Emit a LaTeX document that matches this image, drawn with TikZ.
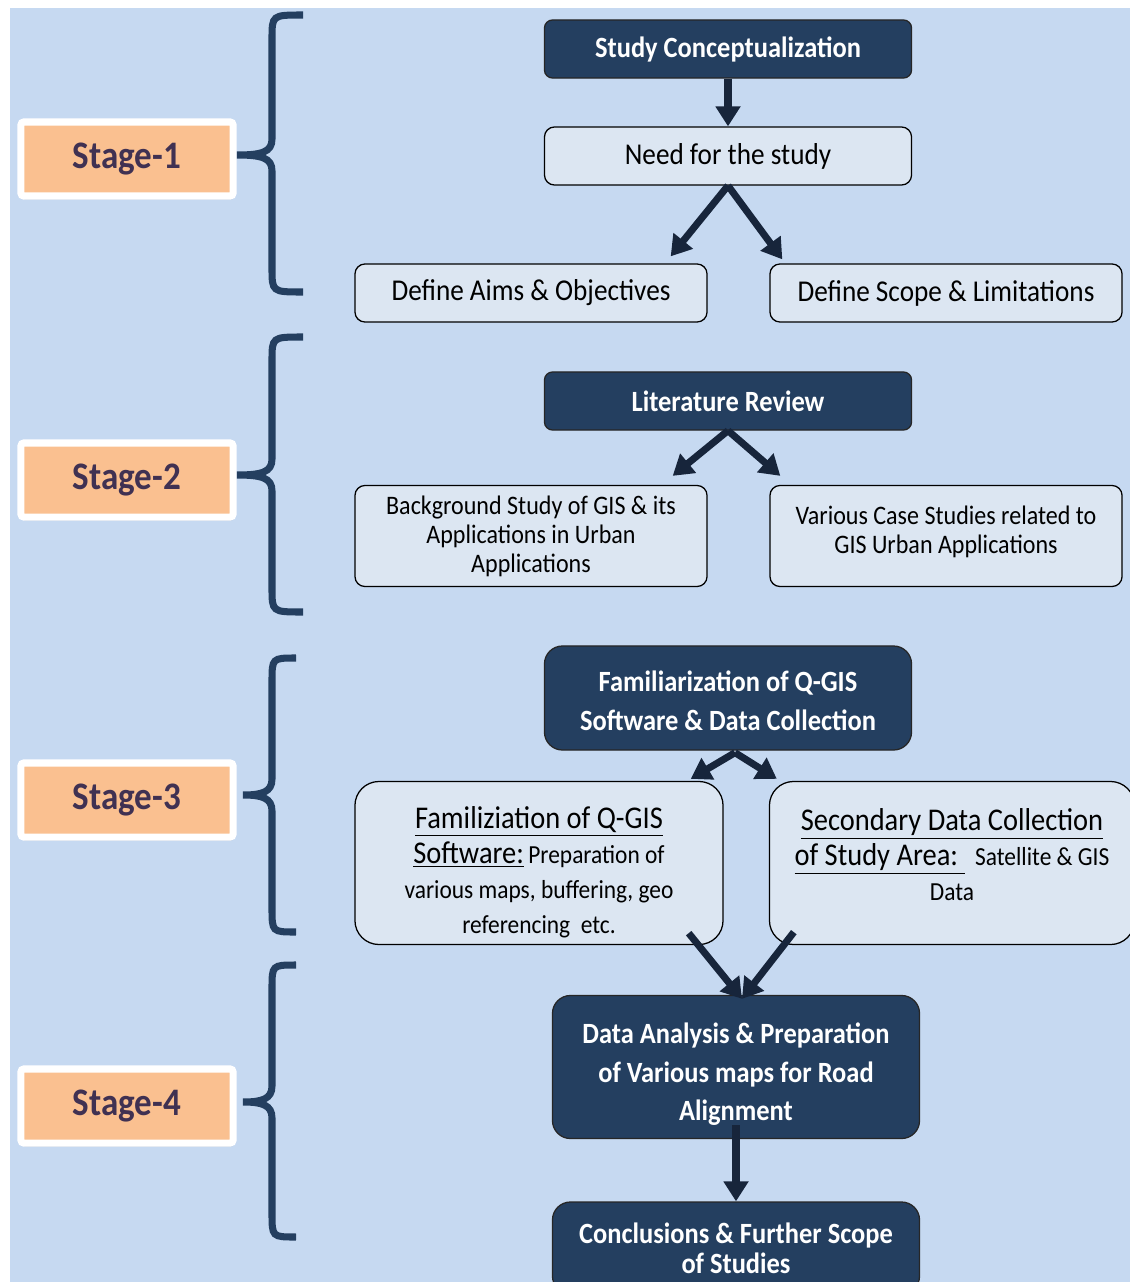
\documentclass[tikz,border=0pt]{standalone}
\usepackage{fontspec}
\setmainfont[FakeStretch=0.9]{Carlito}
\usetikzlibrary{arrows.meta,calc,shadows}
\definecolor{bgblue}{HTML}{C6D9F1}
\definecolor{navy}{HTML}{243F60}
\definecolor{paleblue}{HTML}{DCE6F2}
\definecolor{arrowc}{HTML}{17253B}
\definecolor{stageorange}{HTML}{FAC090}
\definecolor{stagetext}{HTML}{403152}
\begin{document}
\begin{tikzpicture}[x=0.025cm,y=-0.025cm,
    darkbox/.style={draw=black!85,line width=0.9pt,fill=navy,rounded corners=0.2cm,text=white,
      align=center,inner sep=0pt,minimum width=9.175cm,minimum height=1.45cm,
      font=\bfseries\fontsize{20.9}{27.4}\selectfont},
    lightbox/.style={draw=black,line width=0.9pt,fill=paleblue,rounded corners=0.25cm,
      align=center,inner sep=0pt,minimum width=8.8cm,minimum height=1.45cm,
      font=\fontsize{21.5}{24}\selectfont},
    stagebox/.style={draw=white,line width=5pt,fill=stageorange,rounded corners=2pt,
      minimum width=5.3cm,minimum height=1.85cm,text=stagetext,
      font=\bfseries\fontsize{27.7}{30}\selectfont,
      drop shadow={shadow xshift=0.6pt,shadow yshift=-2.5pt,opacity=0.3}},
    stagebrace/.style={draw=navy,line width=5pt},
    flowarrow/.style={-{Triangle[length=5mm,width=6mm]},line width=5pt,draw=arrowc}]
    \useasboundingbox(0,0)rectangle(1130,1282);
    \fill[bgblue](10,8)rectangle(1130,1282);

    % stages
    \node[stagebox](s1)at(127,159){Stage-1};
    \node[stagebox](s2)at(127,480){Stage-2};
    \node[stagebox](s3)at(127,800){Stage-3};
    \node[stagebox](s4)at(127,1106){Stage-4};
    \foreach \t/\m/\b/\e/\p in {15/155/292/303/237, 337/475/612/303/237,
                                658/795/932/296/243, 965/1102/1237/296/243}
      \draw[stagebrace](\e,\t)..controls(272,\t)..(272,\t+24)--(272,\m-16)
        ..controls(272,\m-3)and(262,\m)..(\p,\m)
        ..controls(262,\m)and(272,\m+3)..(272,\m+16)--(272,\b-24)
        ..controls(272,\b)..(\e,\b);

    % stage 1
    \node[darkbox](concept)at(728,49){Study Conceptualization};
    \node[lightbox,minimum width=9.175cm](need)at(728,156){Need for the study};
    \node[lightbox](aims)at(531,293){Define Aims \& Objectives};
    \node[lightbox](scope)at(946,293){Define Scope \& Limitations};

    % stage 2
    \node[darkbox](litrev)at(728,401){Literature Review};
    \node[lightbox,minimum height=2.525cm,font=\fontsize{19}{20.6}\selectfont](backgr)at(531,536)
      {Background Study of GIS \& its\\Applications in Urban\\Applications};
    \node[lightbox,minimum height=2.525cm,font=\fontsize{19}{20.6}\selectfont](cases)at(946,536)
      {Various Case Studies related to\\GIS Urban Applications\rule[-9pt]{0pt}{0pt}};

    % stage 3
    \node[darkbox,minimum height=2.6cm,rounded corners=0.45cm](familiar)at(728,698)
      {\rule{0pt}{19pt}Familiarization of Q-GIS\\Software \& Data Collection};
    \node[lightbox,minimum width=9.2cm,minimum height=4.075cm,rounded corners=0.6cm,
      font=\fontsize{18.5}{24.9}\selectfont](qgis)at(539,863)
      {\rule{0pt}{29pt}{\fontsize{22.5}{24.9}\selectfont\underline{Familiziation of Q-GIS}}\\
       {\fontsize{22.5}{24.9}\selectfont\underline{Software:}}\,Preparation of\\
       various maps, buffering, geo\\referencing\ \ etc.};
    \node[lightbox,minimum width=9.125cm,minimum height=4.075cm,rounded corners=0.6cm,
      font=\fontsize{18.5}{24.9}\selectfont](secondary)at(952,863)
      {\rule{0pt}{29pt}{\fontsize{22.5}{24.9}\selectfont\underline{Secondary Data Collection}}\\
       {\fontsize{22.5}{24.9}\selectfont\underline{of Study Area:\ }}\ \ Satellite \& GIS\\
       Data\\\mbox{}};

    % stage 4
    \node[darkbox,minimum height=3.575cm,rounded corners=0.45cm](analysis)at(736,1067)
      {\rule{0pt}{25pt}Data Analysis \& Preparation\\of Various maps for Road\\Alignment};
    \node[darkbox,minimum height=2.3cm,rounded corners=0.45cm,
      font=\bfseries\fontsize{20.9}{21.3}\selectfont](concl)at(736,1248)
      {Conclusions \& Further Scope\\of Studies};

    % arrows
    \draw[flowarrow](concept.south)--(need.north);
    \draw[flowarrow](need.south)--($(aims.north east)+(-37,-7)$);
    \draw[flowarrow](need.south)--($(scope.north west)+(13,-4)$);
    \draw[flowarrow](litrev.south)--($(backgr.north east)+(-35,-9)$);
    \draw[flowarrow](litrev.south)--($(cases.north west)+(11,-9)$);
    \draw[flowarrow]($(familiar.south)+(7,2)$)--($(qgis.north east)+(-33,-2)$);
    \draw[flowarrow]($(familiar.south)+(7,2)$)--($(secondary.north west)+(8,-2)$);
    \draw[flowarrow]($(qgis.south east)+(-35,-12)$)--($(analysis.north)+(6,4)$);
    \draw[flowarrow]($(secondary.north west|-qgis.south)+(25,-13)$)--($(analysis.north)+(6,4)$);
    \draw[flowarrow]($(analysis.south)+(0,-14)$)--(concl.north);
\end{tikzpicture}
\end{document}
